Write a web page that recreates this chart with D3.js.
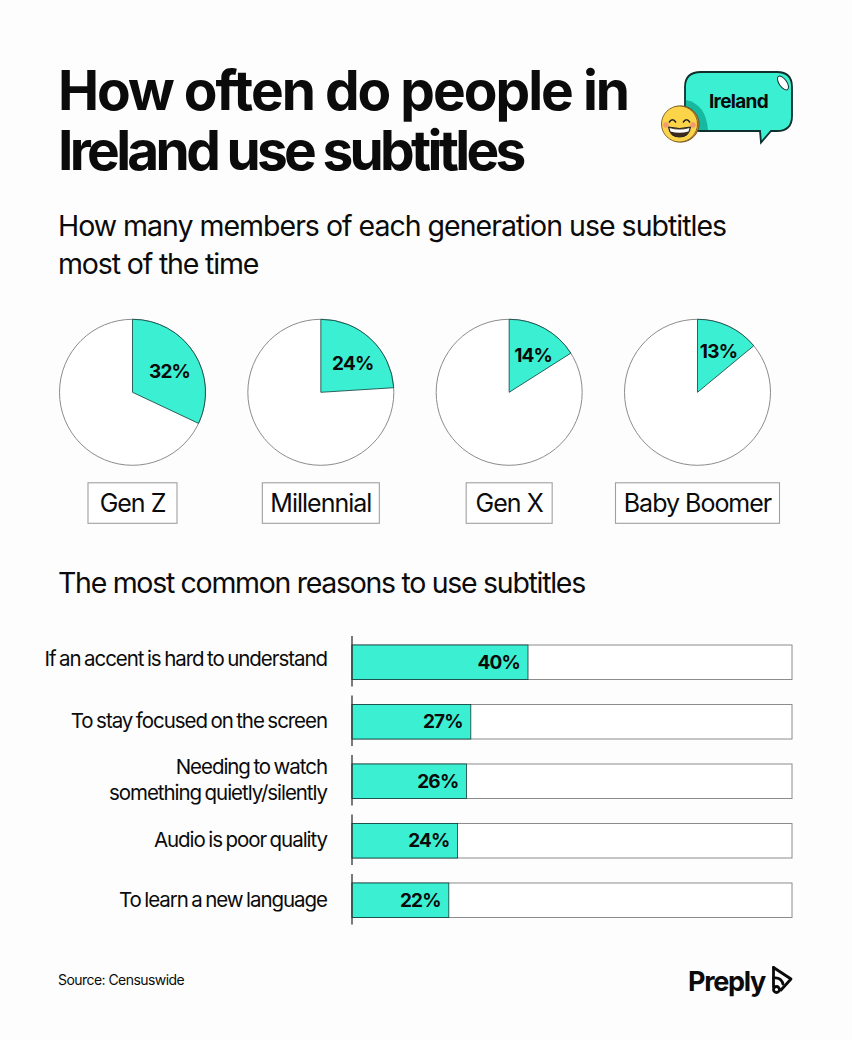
<!DOCTYPE html>
<html>
<head>
<meta charset="utf-8">
<script src="https://cdnjs.cloudflare.com/ajax/libs/d3/7.8.5/d3.min.js"></script>
<style>
  html, body { margin: 0; padding: 0; background: #fdfdfd; }
  svg { display: block; }
  text { font-family: Inter, "Noto Sans", sans-serif; fill: #0b0b0b; }
</style>
</head>
<body>
<div id="chart"></div>
<script>
// Data
var generations = ["Gen Z", "Millennial", "Gen X", "Baby Boomer"];
var generation_shares = [32, 24, 16, 14];   // slice sizes as drawn
var generation_labels = ["32%", "24%", "14%", "13%"];

var reasons = [
    ["If an accent is hard to understand"],
    ["To stay focused on the screen"],
    ["Needing to watch", "something quietly/silently"],
    ["Audio is poor quality"],
    ["To learn a new language"]
];
var reason_values = [40, 27, 26, 24, 22];

var teal = "#3bf0d2", line = "#8c8c8c", dark = "#0e3b38";

var width = 852, height = 1040;
var svg = d3.select("#chart").append("svg")
    .attr("width", width)
    .attr("height", height);

function add_text(s, x, y, size, weight, ls, anchor) {
    return svg.append("text")
        .attr("x", x).attr("y", y)
        .attr("text-anchor", anchor || "start")
        .style("font-size", size + "px")
        .style("font-weight", weight)
        .style("letter-spacing", ls + "px")
        .text(s);
}

// Headings
add_text("How often do people in", 58, 110, 55, 700, -2.0);
add_text("Ireland use subtitles", 58, 170, 55, 700, -3.7);
add_text("How many members of each generation use subtitles", 58, 236, 28.5, 400, -1.0);
add_text("most of the time", 58, 274, 28.5, 400, -1.15);
add_text("The most common reasons to use subtitles", 58, 593, 28.5, 400, -1.3);

// Pies
var pie_x = d3.scalePoint().domain(generations).range([132.5, 697.5]);
var pie_r = 73, pie_y = 392.3;
var pie = d3.pie().sort(null);
var arc = d3.arc().innerRadius(0).outerRadius(pie_r);

var pies = svg.selectAll("g.pie")
    .data(generations)
    .enter().append("g")
    .attr("class", "pie")
    .attr("transform", d => "translate(" + pie_x(d) + "," + pie_y + ")");

pies.append("circle")
    .attr("r", pie_r)
    .attr("fill", "#ffffff")
    .attr("stroke", line)
    .attr("stroke-width", 1);

pies.append("path")
    .attr("d", (d, i) => arc(pie([generation_shares[i], 100 - generation_shares[i]])[0]))
    .attr("fill", teal)
    .attr("stroke", dark)
    .attr("stroke-width", 0.8);

var pie_label_pos = [[37, -14], [32, -22], [24, -30], [21, -34]];
pies.append("text")
    .attr("x", (d, i) => pie_label_pos[i][0])
    .attr("y", (d, i) => pie_label_pos[i][1])
    .attr("text-anchor", "middle")
    .style("font-size", "19px")
    .style("font-weight", 700)
    .style("letter-spacing", "-0.8px")
    .text((d, i) => generation_labels[i]);

// Generation name boxes
var box_w = [89, 117, 86, 164];
pies.append("rect")
    .attr("x", (d, i) => -box_w[i] / 2)
    .attr("y", 90.5)
    .attr("width", (d, i) => box_w[i])
    .attr("height", 40.5)
    .attr("fill", "#ffffff")
    .attr("stroke", "#a0a0a0")
    .attr("stroke-width", 1.1);

pies.append("text")
    .attr("y", 120)
    .attr("text-anchor", "middle")
    .style("font-size", "25px")
    .style("font-weight", 400)
    .style("letter-spacing", "-1px")
    .text(d => d);

// Bars
var bar_x = d3.scaleLinear().domain([0, 100]).range([352, 792]);
var bar_y = d3.scaleBand().domain(d3.range(reasons.length)).range([645, 917.5]).paddingInner(0.42).paddingOuter(0);

var rows = svg.selectAll("g.row")
    .data(reason_values)
    .enter().append("g")
    .attr("class", "row")
    .attr("transform", (d, i) => "translate(0," + bar_y(i) + ")");

rows.append("rect")
    .attr("x", bar_x(0))
    .attr("width", bar_x(100) - bar_x(0))
    .attr("height", bar_y.bandwidth())
    .attr("fill", "#ffffff")
    .attr("stroke", line)
    .attr("stroke-width", 1);

rows.append("rect")
    .attr("x", bar_x(0))
    .attr("width", d => bar_x(d) - bar_x(0))
    .attr("height", bar_y.bandwidth())
    .attr("fill", teal)
    .attr("stroke", dark)
    .attr("stroke-width", 0.8);

rows.append("line")
    .attr("x1", bar_x(0)).attr("x2", bar_x(0))
    .attr("y1", -9).attr("y2", bar_y.bandwidth() + 7)
    .attr("stroke", "#333")
    .attr("stroke-width", 1.3);

rows.append("text")
    .attr("x", d => bar_x(d) - 8)
    .attr("y", 24)
    .attr("text-anchor", "end")
    .style("font-size", "19px")
    .style("font-weight", 700)
    .style("letter-spacing", "-0.8px")
    .text(d => d + "%");

var reason_y = [21, 23.5, 10, 23.5, 24];
rows.each(function(d, i) {
    d3.select(this).selectAll("text.reason")
        .data(reasons[i])
        .enter().append("text")
        .attr("class", "reason")
        .attr("x", 327)
        .attr("y", (s, j) => reason_y[i] + j * 26)
        .attr("text-anchor", "end")
        .style("font-size", "20.5px")
        .style("font-weight", 400)
        .style("letter-spacing", "-1.05px")
        .style("word-spacing", "-1.2px")
        .text(s => s);
});

// Footer
add_text("Source: Censuswide", 58, 985, 14, 400, -0.55);
add_text("Preply", 688, 991, 27, 700, -1.3);

var logo = svg.append("g")
    .attr("transform", "translate(771,965)")
    .attr("fill", "none")
    .attr("stroke", "#0b0b0b")
    .attr("stroke-width", 2.8)
    .attr("stroke-linejoin", "round")
    .attr("stroke-linecap", "round");
logo.append("path").attr("d", "M2.5 2.5 L20 14 L10 25");
logo.append("path").attr("d", "M2.5 2.5 V22");
logo.append("path").attr("d", "M2.5 13 Q10 12 12 19");
logo.append("circle").attr("cx", 5.5).attr("cy", 24.5).attr("r", 3);

// Ireland bubble
var bubble = svg.append("g");
bubble.append("path")
    .attr("d", "M701 72 H777 Q792 72 792 87 V116 Q792 131 777 131 H771 L761 142.5 L760 131 H701 Q685 131 685 116 V87 Q685 72 701 72 Z")
    .attr("fill", teal)
    .attr("stroke", "#0e2f2c")
    .attr("stroke-width", 1.8);
bubble.append("path")
    .attr("d", "M685.9 100 Q706 104 708 130 H701 Q686 130 685.9 116 Z")
    .attr("fill", "#17b8a0");
bubble.append("ellipse")
    .attr("cx", 783).attr("cy", 83)
    .attr("rx", 3.8).attr("ry", 8)
    .attr("transform", "rotate(-35 783 83)")
    .attr("fill", "#ffffff")
    .attr("stroke", "#0e2f2c")
    .attr("stroke-width", 1);
add_text("Ireland", 738.5, 108, 19, 700, -0.7, "middle");

// Emoji
var face = svg.append("g").attr("transform", "translate(679.5,124)");
face.append("circle").attr("cx", 1.5).attr("r", 18).attr("fill", "#f0a050").attr("stroke", "#5a3a10").attr("stroke-width", 0.8);
face.append("circle").attr("r", 18).attr("fill", "#fbd44a").attr("stroke", "#6a4a10").attr("stroke-width", 0.8);
face.append("circle").attr("cx", -13.5).attr("cy", 1).attr("r", 2.8).attr("fill", "#f59a6a");
face.append("circle").attr("cx", 13.5).attr("cy", 1).attr("r", 2.8).attr("fill", "#f59a6a");
face.append("path").attr("d", "M-10.5 -1.5 Q-7 -7 -3.5 -1.5 M3.5 -1.5 Q7 -7 10.5 -1.5")
    .attr("fill", "none").attr("stroke", "#222").attr("stroke-width", 1.5);
face.append("path").attr("d", "M-11 3 Q0 6 11 3 Q10 13 0 13 Q-10 13 -11 3 Z")
    .attr("fill", "#3a2a20").attr("stroke", "#222").attr("stroke-width", 1);
face.append("path").attr("d", "M-10 4 Q0 7 10 4 L9 7.5 Q0 10 -9 7.5 Z")
    .attr("fill", "#ffffff");
</script>
</body>
</html>
